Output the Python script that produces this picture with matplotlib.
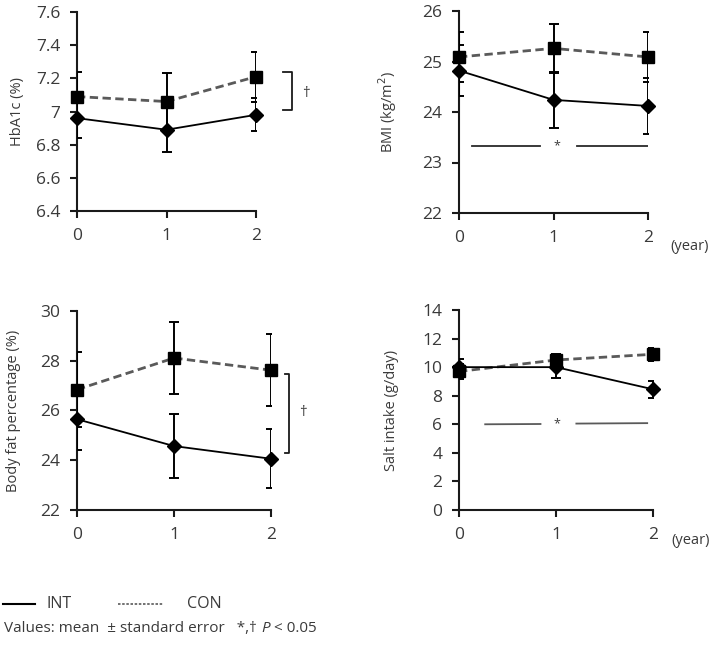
import matplotlib
matplotlib.use('Agg')
import matplotlib.pyplot as plt
from matplotlib.lines import Line2D
from matplotlib.text import Annotation
from matplotlib.ticker import FuncFormatter

plt.rcParams['font.family'] = ['Open Sans', 'DejaVu Sans']
TXT = '#3a3a3a'

years = [0, 1, 2]

# HbA1c (%)
hba1c_int = [6.96, 6.89, 6.98]
hba1c_int_se = [0.12, 0.135, 0.10]
hba1c_con = [7.09, 7.06, 7.21]
hba1c_con_se = [0.15, 0.17, 0.15]

# BMI (kg/m2)
bmi_int = [24.82, 24.24, 24.12]
bmi_int_se = [0.50, 0.55, 0.55]
bmi_con = [25.09, 25.26, 25.09]
bmi_con_se = [0.49, 0.48, 0.49]

# body fat (%)
fat_int = [25.65, 24.57, 24.06]
fat_int_se = [1.22, 1.28, 1.18]
fat_con = [26.84, 28.11, 27.62]
fat_con_se = [1.50, 1.44, 1.45]

# salt intake (g/day)
salt_int = [10.0, 10.0, 8.45]
salt_int_se = [0.6, 0.75, 0.6]
salt_con = [9.7, 10.5, 10.9]
salt_con_se = [0.5, 0.4, 0.45]

W, H = 709, 645
fig = plt.figure(figsize=(W / 100, H / 100), dpi=100)


def px_axes(left, top, right, bottom):
    return fig.add_axes([left / W, 1 - bottom / H, (right - left) / W, (bottom - top) / H])


def draw_panel(ax, yi, ei, yc, ec, ylim, ystep, ylabel, labx):
    ax.errorbar(years, yc, yerr=ec, fmt='none', ecolor='black', elinewidth=1.4,
                capsize=3.6, capthick=1.4, zorder=3)
    ax.errorbar(years, yi, yerr=ei, fmt='none', ecolor='black', elinewidth=1.4,
                capsize=3.6, capthick=1.4, zorder=3)
    ax.plot(years, yc, color='#5a5a5a', lw=2.0, ls=(0, (3, 1.6)), zorder=4)
    ax.plot(years, yi, color='black', lw=1.3, zorder=4)
    ax.plot(years, yc, 's', color='black', ms=8, clip_on=False, zorder=5)
    ax.plot(years, yi, 'D', color='black', ms=7, clip_on=False, zorder=6)
    ax.set_xlim(0, 2)
    ax.set_ylim(*ylim)
    yt = []
    v = ylim[0]
    while v <= ylim[1] + 1e-9:
        yt.append(round(v, 3))
        v += ystep
    ax.set_yticks(yt)
    ax.set_xticks(years)
    ax.yaxis.set_major_formatter(FuncFormatter(lambda v, p: ('%g' % v)))
    for s in ['top', 'right']:
        ax.spines[s].set_visible(False)
    for s in ['left', 'bottom']:
        ax.spines[s].set_linewidth(1.5)
        ax.spines[s].set_color('#1a1a1a')
    ax.tick_params(direction='out', length=5, width=1.5, color='#1a1a1a',
                   labelsize=12.5, labelcolor=TXT)
    ax.tick_params(axis='y', pad=7)
    ax.tick_params(axis='x', pad=7)
    ax.set_ylabel(ylabel, fontsize=10.5, color=TXT)
    ax.yaxis.set_label_coords(labx, 0.5)


ax1 = px_axes(77, 12, 256, 211)
draw_panel(ax1, hba1c_int, hba1c_int_se, hba1c_con, hba1c_con_se,
           (6.4, 7.6), 0.2, 'HbA1c (%)', -0.29)
# dagger bracket
ax1.plot([2.3, 2.4, 2.4, 2.3], [7.24, 7.24, 7.01, 7.01], color='#1a1a1a', lw=1.3, clip_on=False)
ax1.text(2.56, 7.11, '\u2020', fontsize=11, color=TXT, ha='center', va='center')

ax2 = px_axes(459, 11, 648, 213)
draw_panel(ax2, bmi_int, bmi_int_se, bmi_con, bmi_con_se,
           (22, 26), 1, 'BMI (kg/m$^2$)', -0.32)
ax2.plot([0.14, 0.86], [23.33, 23.33], color='#2a2a2a', lw=1.3)
ax2.plot([1.25, 2.0], [23.33, 23.33], color='#2a2a2a', lw=1.3)
ax2.text(1.04, 23.33, '*', fontsize=9, color=TXT, ha='center', va='center')
fig.text(670 / W, 1 - 246 / H, '(year)', fontsize=10.5, color=TXT, va='center')

ax3 = px_axes(77, 311, 271, 510)
draw_panel(ax3, fat_int, fat_int_se, fat_con, fat_con_se,
           (22, 30), 2, 'Body fat percentage (%)', -0.29)
ax3.plot([2.14, 2.19, 2.19, 2.14], [27.45, 27.45, 24.3, 24.3], color='#1a1a1a', lw=1.3, clip_on=False)
ax3.text(2.33, 25.9, '\u2020', fontsize=11, color=TXT, ha='center', va='center')

ax4 = px_axes(459, 310, 653, 510)
draw_panel(ax4, salt_int, salt_int_se, salt_con, salt_con_se,
           (0, 14), 2, 'Salt intake (g/day)', -0.31)
ax4.plot([0.27, 0.84], [6.0, 6.02], color='#5a5a5a', lw=1.3)
ax4.plot([1.21, 1.94], [6.05, 6.08], color='#5a5a5a', lw=1.3)
ax4.text(1.01, 6.03, '*', fontsize=9, color=TXT, ha='center', va='center')
fig.text(671 / W, 1 - 541 / H, '(year)', fontsize=10.5, color=TXT, va='center')

# legend
fig.add_artist(Line2D([3 / W, 35 / W], [1 - 604 / H, 1 - 604 / H], color='black', lw=1.5))
fig.text(47 / W, 1 - 604 / H, 'INT', fontsize=11.5, color=TXT, va='center')
fig.add_artist(Line2D([118 / W, 163 / W], [1 - 604 / H, 1 - 604 / H], color='#5a5a5a',
                      lw=1.2, ls=(0, (1.5, 1))))
fig.text(187 / W, 1 - 604 / H, 'CON', fontsize=11.5, color=TXT, va='center')
t1 = fig.text(4 / W, 1 - 629 / H, 'Values: mean  \u00b1 standard error   *,\u2020', fontsize=11,
              color=TXT, va='center')
t2 = Annotation('P', xy=(1, 0.5), xycoords=t1, xytext=(3, 0), textcoords='offset points',
                fontsize=11, color=TXT, va='center', ha='left', style='italic')
fig.add_artist(t2)
t3 = Annotation('< 0.05', xy=(1, 0.5), xycoords=t2, xytext=(3, 0), textcoords='offset points',
                fontsize=11, color=TXT, va='center', ha='left')
fig.add_artist(t3)

fig.savefig('out.png', dpi=100)
